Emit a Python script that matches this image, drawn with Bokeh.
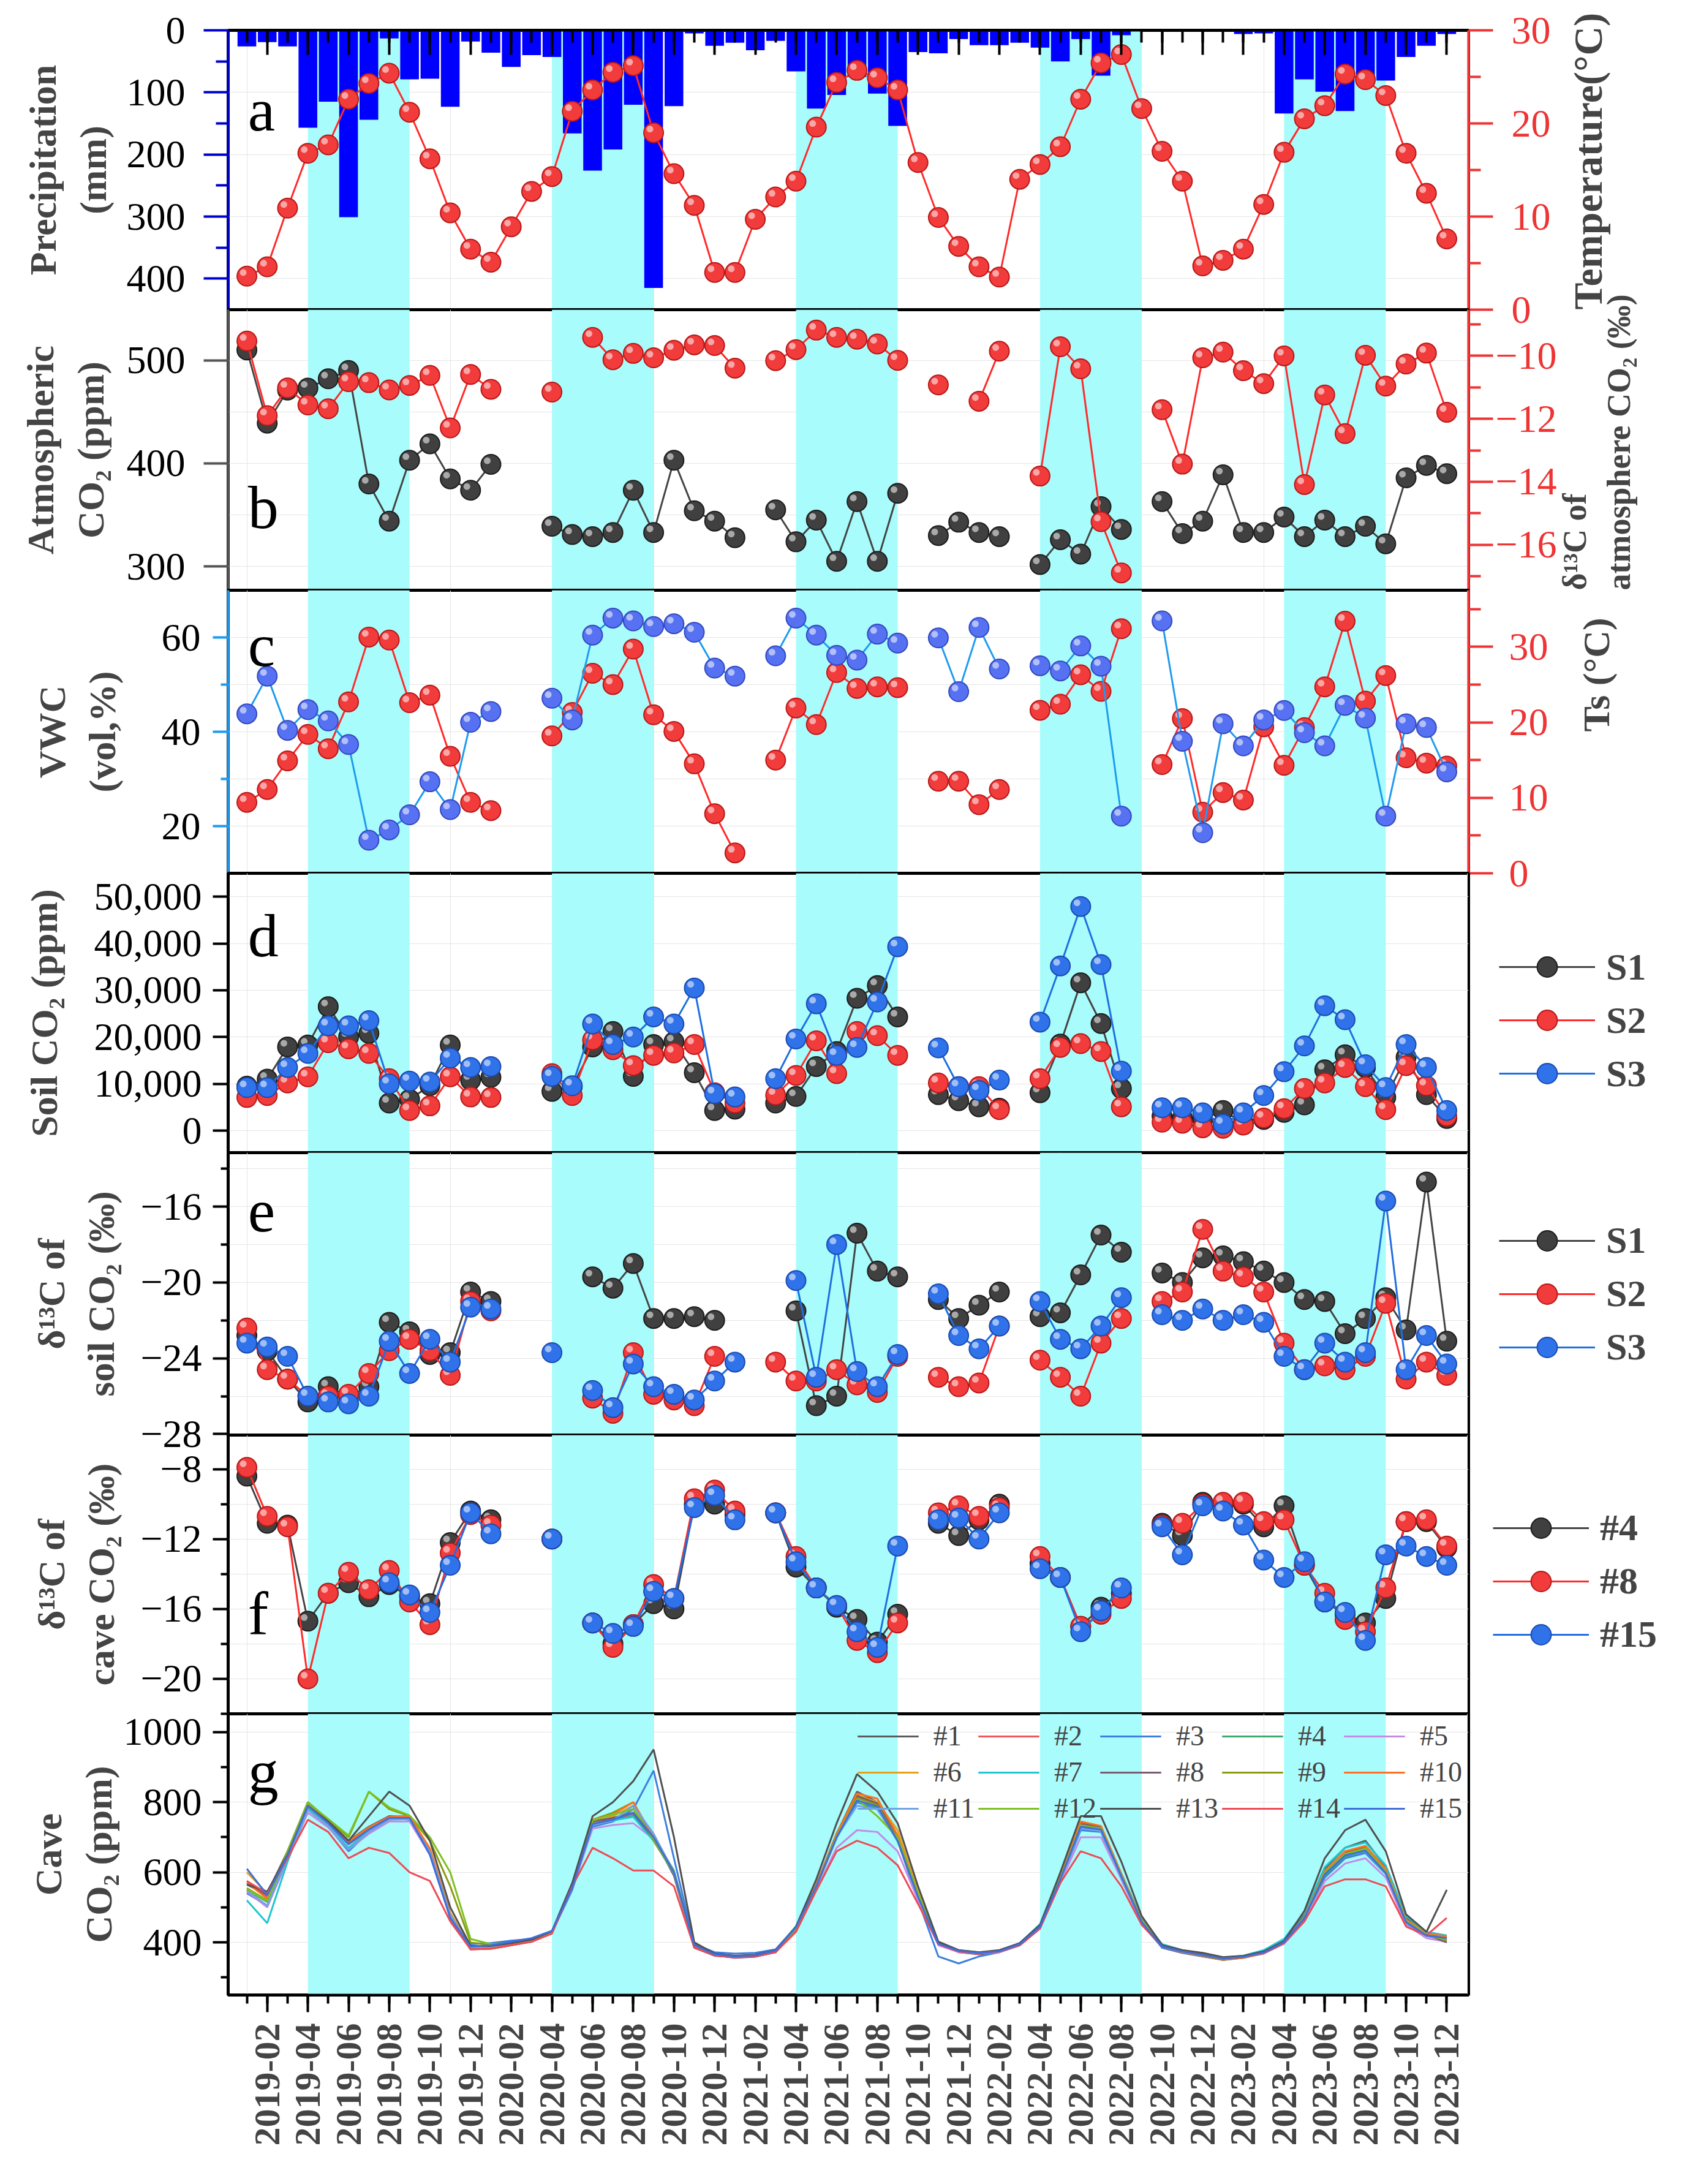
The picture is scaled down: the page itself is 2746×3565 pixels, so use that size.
import math
import numpy as np
from bokeh.plotting import figure
from bokeh.models import (Range1d, LinearAxis, FixedTicker, BoxAnnotation, Label,
                          Legend, LegendItem, NumeralTickFormatter)
from bokeh.layouts import column
from bokeh.embed import file_html
from bokeh.resources import INLINE

# ---- data (month index 0 = 2019-01) ----
months = list(range(60))
month_names = ["%d-%02d" % (2019 + i // 12, i % 12 + 1) for i in months]
wet_start = [3, 15, 27, 39, 51]
wet_end = [8, 20, 32, 44, 56]

precip = [26, 19, 26, 157, 115, 301, 144, 13, 79, 78, 123, 18, 36, 59, 40, 43, 166, 226, 192, 120,
          415, 122, 5, 25, 20, 32, 17, 66, 126, 104, 75, 102, 154, 35, 37, 14, 24, 24, 20, 28,
          50, 14, 73, 8, 0, 0, 0, 0, 0, 6, 5, 134, 79, 99, 130, 80, 81, 43, 25, 6]
temp = [3.6, 4.6, 10.9, 16.8, 17.7, 22.6, 24.3, 25.4, 21.2, 16.2, 10.4, 6.5, 5.1, 8.9, 12.7, 14.3,
        21.3, 23.6, 25.5, 26.2, 19.0, 14.6, 11.2, 4.0, 4.0, 9.7, 12.1, 13.8, 19.6, 24.4, 25.7, 24.9,
        23.6, 15.8, 9.9, 6.8, 4.6, 3.5, 14.0, 15.6, 17.5, 22.6, 26.5, 27.4, 21.6, 17.0, 13.8, 4.7,
        5.3, 6.5, 11.3, 16.9, 20.5, 21.9, 25.3, 24.7, 23.0, 16.8, 12.5, 7.6]

atm_co2 = [510, 439, 471, 473, 482, 490, 380, 344, 403, 419, 385, 374, 399, None, None, 339, 331, 329,
           333, 374, 333, 403, 354, 344, 328, None, 355, 324, 345, 305, 363, 305, 371, None, 330, 343,
           333, 329, None, 302, 326, 312, 358, 336, None, 363, 332, 344, 389, 333, 333, 348, 329, 345,
           329, 339, 322, 386, 398, 390]
atm_d13c = [-9.53, -11.9, -11.02, -11.56, -11.68, -10.82, -10.85, -11.08, -10.94, -10.62, -12.29, -10.59,
            -11.06, None, None, -11.15, None, -9.41, -10.12, -9.92, -10.06, -9.82, -9.65, -9.67, -10.39,
            None, -10.15, -9.8, -9.18, -9.41, -9.47, -9.62, -10.14, None, -10.92, None, -11.44, -9.85,
            None, -13.82, -9.71, -10.41, -15.27, -16.9, None, -11.71, -13.44, -10.06, -9.88, -10.47,
            -10.88, -10.0, -14.09, -11.24, -12.47, -9.98, -10.96, -10.26, -9.91, -11.79]

vwc = [43.8, 51.8, 40.3, 44.7, 42.3, 37.3, 17.0, 19.2, 22.4, 29.4, 23.5, 42.0, 44.3, None, None, 47.1,
       42.5, 60.5, 64.1, 63.5, 62.3, 62.9, 61.1, 53.5, 51.8, None, 56.1, 64.1, 60.5, 56.2, 55.2, 60.7,
       58.8, None, 59.9, 48.5, 62.1, 53.3, None, 54.0, 52.9, 58.2, 53.9, 22.1, None, 63.5, 38.0, 18.6,
       41.7, 37.0, 42.5, 44.5, 39.8, 37.0, 45.6, 42.9, 22.1, 41.7, 40.9, 31.5]
ts = [9.4, 11.1, 14.9, 18.4, 16.5, 22.7, 31.3, 30.9, 22.6, 23.6, 15.5, 9.4, 8.3, None, None, 18.2, 21.3,
      26.5, 25.0, 29.7, 21.0, 18.8, 14.5, 7.9, 2.7, None, 15.0, 21.9, 19.7, 26.6, 24.5, 24.7, 24.6, None,
      12.2, 12.2, 9.1, 11.1, None, 21.6, 22.4, 26.3, 24.1, 32.4, None, 14.4, 20.5, 8.1, 10.7, 9.7, 19.4,
      14.3, 19.3, 24.7, 33.4, 22.8, 26.2, 15.3, 14.6, 14.2]

soil_s1 = [9500, 11000, 17900, 18300, 26500, 20000, 20800, 5900, 6700, 9600, 18300, 10800, 11400, None,
           None, 8400, 9400, 17900, 21200, 11600, 18400, 19000, 12400, 4300, 4600, None, 5900, 7300,
           13700, 16900, 28300, 31000, 24300, None, 7700, 6400, 5100, 4800, None, 8100, 18500, 31600,
           22900, 9000, None, 3100, 2700, 2400, 4300, 1600, 2400, 3900, 5500, 13000, 16200, 13500, 7100,
           15700, 7700, 2600]
soil_s2 = [7100, 7500, 10200, 11500, 18800, 17500, 16500, 11100, 4300, 5300, 11500, 7200, 7100, None,
           None, 12200, 7500, 19400, 17300, 13900, 16100, 16600, 18400, 8100, 5900, None, 7600, 11800,
           19200, 12200, 21200, 20300, 16100, None, 10200, 9400, 9400, 4500, None, 11100, 17800, 18600,
           16900, 5100, None, 1800, 1600, 600, 500, 1200, 2700, 4700, 9000, 10200, 13500, 9400, 4500,
           13900, 9600, 3100]
soil_s3 = [9200, 9200, 13500, 16500, 22400, 22400, 23500, 10000, 10600, 10400, 15500, 13500, 13700, None,
           None, 11600, 9600, 22800, 18400, 20000, 24300, 22800, 30500, 7900, 7200, None, 11100, 19600,
           27100, 16100, 17800, 27500, 39300, None, 17700, 9400, 8600, 10800, None, 23200, 35200, 47900,
           35500, 12700, None, 4900, 4900, 3800, 1400, 3800, 7500, 12600, 18100, 26700, 23700, 14100,
           9200, 18400, 13500, 4300]

soil_d13_s1 = [-22.8, -23.6, -25.1, -26.3, -25.5, -26.0, -25.5, -22.1, -22.6, -23.8, -23.7, -20.5, -21.0,
               None, None, None, None, -19.7, -20.3, -19.0, -21.9, -21.9, -21.8, -22.0, None, None, None,
               -21.5, -26.5, -26.0, -17.4, -19.4, -19.7, None, -20.9, -21.9, -21.2, -20.5, None, -21.8,
               -21.6, -19.6, -17.5, -18.4, None, -19.5, -20.0, -18.7, -18.6, -18.9, -19.4, -20.0, -20.9,
               -21.0, -22.7, -21.9, -20.8, -22.5, -14.7, -23.1]
soil_d13_s2 = [-22.4, -24.6, -25.1, -26.0, -26.0, -25.9, -24.8, -23.6, -23.0, -23.6, -24.9, -21.0, -21.5,
               None, None, None, None, -26.1, -26.9, -23.7, -25.9, -26.2, -26.5, -23.9, None, None, -24.2,
               -25.2, -25.2, -24.6, -25.4, -25.8, -23.9, None, -25.0, -25.5, -25.3, -22.3, None, -24.1,
               -25.0, -26.0, -23.2, -21.9, None, -21.0, -20.5, -17.2, -19.4, -19.7, -20.5, -23.2, -24.6,
               -24.4, -24.6, -23.9, -21.1, -25.1, -24.2, -24.9]
soil_d13_s3 = [-23.2, -23.4, -23.9, -26.0, -26.3, -26.4, -26.0, -23.1, -24.8, -23.0, -24.2, -21.3, -21.4,
               None, None, -23.7, None, -25.7, -26.6, -24.3, -25.5, -25.9, -26.2, -25.2, -24.2, None, None,
               -19.9, -25.0, -18.0, -24.7, -25.5, -23.8, None, -20.6, -22.8, -23.5, -22.3, None, -21.0,
               -23.0, -23.5, -22.3, -20.8, None, -21.7, -22.0, -21.4, -22.0, -21.7, -22.1, -23.9, -24.6,
               -23.2, -24.2, -23.7, -15.7, -24.6, -22.8, -24.3]

cave_d13_4 = [-8.4, -11.1, -11.2, -16.7, -15.1, -14.5, -15.3, -14.6, -15.3, -15.7, -12.2, -10.4, -10.9,
              None, None, -12.0, None, -16.8, -18.0, -16.9, -15.7, -16.0, -10.0, -10.0, -10.6, None,
              -10.5, -13.6, -14.8, -15.9, -16.6, -17.9, -16.3, None, -11.1, -11.8, -10.9, -10.0, None,
              -13.4, -14.2, -17.0, -15.9, -15.1, None, -11.1, -11.8, -9.9, -10.0, -10.0, -11.3, -10.1,
              -13.5, -15.6, -16.3, -16.8, -15.4, -11.0, -11.0, -12.5]
cave_d13_8 = [-7.9, -10.7, -11.3, -20.0, -15.1, -13.9, -14.9, -13.8, -15.6, -16.9, -12.8, -10.6, -11.2,
              None, None, -12.0, None, -16.8, -18.2, -16.9, -14.6, -15.4, -9.7, -9.2, -10.4, None,
              -10.5, -13.0, -14.8, -15.8, -17.8, -18.5, -16.8, None, -10.5, -10.1, -10.7, -10.2, None,
              -13.0, -14.2, -17.0, -16.3, -15.4, None, -11.2, -11.1, -10.0, -9.9, -9.9, -11.0, -10.9,
              -13.5, -15.1, -16.6, -17.3, -14.8, -11.0, -10.9, -12.4]
cave_d13_15 = [None, None, None, None, None, None, None, -14.5, -15.2, -16.2, -13.5, -10.5, -11.7,
               None, None, -12.0, None, -16.8, -17.4, -17.0, -15.0, -15.4, -10.2, -9.5, -10.9, None,
               -10.5, -13.3, -14.8, -15.8, -17.3, -18.2, -12.4, None, -10.9, -10.8, -12.0, -10.5, None,
               -13.7, -14.2, -17.3, -16.1, -14.8, None, -11.3, -12.9, -10.1, -10.4, -11.2, -13.2, -14.2,
               -13.3, -15.6, -16.2, -17.8, -12.9, -12.4, -13.0, -13.5]

cave_names = ["#%d" % i for i in range(1, 16)]
cave_colors = ["#5a5a5a", "#f2555c", "#3d7fe0", "#3daa6e", "#c38be6", "#e3a21a", "#1fc6d2", "#7b5a6e",
               "#8b9b0f", "#ff6f1f", "#70a3e3", "#7dc121", "#505050", "#ee4b55", "#3f6fd9"]
cave_co2 = [
    [570, 540, 660, 800, 745, 690, 730, 760, 750, 660, 470, 380, 382, 392, 402, 428, 565, 745, 755, 770,
     700, 590, 385, 362, 358, 360, 372, 436, 565, 710, 830, 800, 700, 540, 398, 372, 366, 372, 392, 440,
     590, 740, 730, 595, 465, 385, 370, 360, 350, 356, 370, 398, 480, 610, 670, 690, 615, 470, 425, 405],
    [575, 530, 655, 795, 742, 680, 720, 758, 760, 665, 475, 382, 386, 396, 406, 432, 558, 738, 752, 762,
     695, 595, 388, 364, 358, 362, 376, 442, 562, 705, 815, 795, 695, 535, 396, 374, 368, 374, 394, 446,
     582, 730, 722, 588, 458, 388, 374, 364, 352, 358, 370, 400, 472, 600, 655, 668, 605, 462, 425, 415],
    [540, 505, 640, 780, 730, 660, 715, 755, 750, 650, 470, 395, 398, 405, 410, 428, 550, 730, 745, 780,
     890, 640, 395, 372, 368, 370, 380, 445, 560, 700, 800, 780, 690, 520, 360, 340, 360, 372, 392, 440,
     575, 720, 715, 580, 455, 385, 372, 362, 352, 358, 368, 398, 465, 585, 640, 655, 595, 455, 418, 408],
    [550, 515, 645, 785, 738, 682, 722, 752, 752, 655, 475, 388, 390, 400, 408, 432, 556, 735, 748, 760,
     700, 605, 390, 366, 360, 363, 377, 441, 558, 698, 805, 785, 688, 528, 396, 376, 370, 376, 396, 447,
     580, 728, 720, 588, 459, 390, 376, 366, 356, 360, 371, 401, 468, 590, 645, 660, 598, 458, 420, 412],
    [545, 500, 635, 770, 728, 665, 710, 745, 745, 650, 472, 384, 384, 394, 404, 430, 555, 725, 735, 740,
     695, 600, 388, 364, 358, 360, 374, 438, 550, 670, 720, 715, 660, 520, 392, 372, 368, 372, 392, 440,
     570, 700, 700, 580, 455, 388, 372, 362, 352, 356, 368, 396, 460, 575, 625, 640, 585, 450, 412, 402],
    [600, 540, 655, 790, 745, 690, 725, 750, 755, 665, 485, 385, 386, 396, 406, 430, 560, 742, 760, 790,
     700, 598, 386, 363, 357, 360, 374, 438, 560, 705, 820, 800, 720, 545, 398, 376, 371, 376, 394, 443,
     585, 738, 726, 592, 462, 388, 373, 362, 350, 356, 369, 398, 472, 600, 660, 675, 610, 465, 426, 412],
    [520, 455, 630, 780, 735, 670, 718, 752, 752, 655, 476, 386, 388, 398, 408, 432, 560, 736, 748, 758,
     690, 596, 388, 365, 359, 362, 376, 446, 565, 712, 815, 792, 695, 535, 398, 377, 372, 376, 398, 452,
     590, 735, 724, 596, 468, 395, 378, 367, 357, 362, 378, 410, 485, 615, 670, 685, 620, 475, 430, 420],
    [565, 535, 655, 795, 742, 686, 728, 760, 758, 660, 478, 384, 385, 395, 405, 430, 562, 745, 755, 768,
     695, 598, 387, 363, 356, 359, 373, 437, 560, 706, 818, 796, 698, 538, 397, 375, 369, 374, 393, 443,
     586, 737, 727, 592, 462, 389, 374, 363, 351, 357, 370, 399, 474, 602, 658, 672, 606, 462, 423, 400],
    [555, 520, 660, 800, 750, 700, 830, 780, 760, 690, 560, 400, 392, 398, 405, 428, 560, 750, 770, 800,
     690, 600, 388, 365, 360, 362, 376, 440, 562, 702, 812, 792, 693, 533, 397, 377, 371, 376, 395, 445,
     583, 733, 724, 590, 460, 390, 375, 364, 354, 359, 371, 400, 470, 597, 652, 667, 602, 460, 421, 406],
    [570, 525, 652, 795, 745, 688, 728, 758, 760, 668, 480, 384, 385, 395, 405, 430, 565, 750, 765, 800,
     700, 600, 388, 364, 358, 361, 375, 440, 565, 710, 825, 810, 705, 540, 398, 376, 370, 375, 394, 446,
     588, 745, 732, 595, 463, 389, 374, 363, 352, 357, 370, 399, 473, 603, 660, 675, 610, 464, 424, 418],
    [548, 505, 640, 778, 732, 665, 715, 750, 752, 658, 478, 386, 388, 398, 407, 431, 556, 735, 748, 790,
     710, 600, 390, 365, 359, 362, 376, 442, 558, 700, 790, 780, 690, 530, 396, 375, 369, 374, 394, 444,
     578, 725, 718, 586, 458, 388, 374, 364, 354, 359, 372, 402, 472, 596, 648, 660, 596, 457, 419, 410],
    [552, 518, 658, 798, 752, 705, 830, 785, 762, 700, 600, 410, 395, 400, 406, 430, 558, 748, 765, 780,
     695, 602, 389, 365, 359, 361, 375, 439, 560, 703, 808, 760, 700, 540, 398, 377, 371, 376, 395, 444,
     584, 734, 725, 591, 461, 390, 375, 364, 353, 358, 371, 400, 471, 598, 653, 668, 603, 461, 422, 408],
    [565, 545, 650, 790, 745, 690, 760, 830, 790, 690, 500, 390, 390, 398, 408, 432, 570, 760, 800, 860,
     950, 700, 400, 368, 362, 365, 378, 445, 580, 740, 880, 830, 740, 560, 402, 378, 372, 378, 398, 450,
     600, 760, 760, 630, 475, 392, 378, 370, 358, 362, 374, 404, 490, 640, 720, 750, 660, 480, 430, 550],
    [575, 540, 640, 750, 715, 640, 670, 655, 600, 575, 460, 380, 382, 392, 402, 425, 560, 670, 640, 605,
     605, 560, 385, 363, 357, 360, 372, 430, 548, 660, 690, 670, 620, 510, 395, 374, 368, 374, 392, 440,
     570, 660, 640, 560, 450, 388, 374, 364, 354, 358, 370, 398, 460, 560, 580, 580, 560, 445, 420, 470],
    [610, 535, 648, 790, 740, 680, 722, 755, 755, 650, 470, 388, 392, 402, 412, 433, 556, 738, 750, 770,
     700, 600, 392, 366, 360, 363, 377, 443, 560, 700, 805, 788, 690, 530, 396, 376, 370, 375, 395, 445,
     580, 730, 722, 588, 458, 388, 374, 364, 354, 359, 371, 401, 469, 594, 648, 662, 598, 458, 420, 412],
]

FONT = "Liberation Serif"
FW = 2025
LEFT, RIGHT = 372, 333
PAD = 40                     # transparent spill-over border between stacked panels
RED = "#ee3434"
# sphere-like markers: (fill, edge)
BLACK_DOT = ("#404040", "#1c1c1c")
RED_DOT = ("#f23b3b", "#b81818")
BLUE_DOT = ("#2f72ea", "#1a4bb0")
VWC_DOT = ("#5672f2", "#3448c0")

X0, X1 = -0.92, 60.07
PX = (X1 - X0) / FW
xr = Range1d(X0, X1)
odd_months = [m for m in months if m % 2 == 1]


def arr(v):
    return np.array(v, dtype=float)


def make_fig(y_range, fh, top=PAD, bottom=PAD, right=RIGHT, first=False):
    p = figure(frame_width=FW, frame_height=fh, x_range=xr, y_range=y_range,
               x_axis_location=None, y_axis_location=None, toolbar_location=None,
               output_backend="svg", min_border_left=LEFT, min_border_right=right,
               min_border_top=top, min_border_bottom=bottom,
               margin=(0, 0, 0, 0) if first else (-2 * PAD, 0, 0, 0))
    p.border_fill_alpha = 0
    p.outline_line_color = "black"
    p.outline_line_width = 5
    p.outline_line_alpha = 1
    for s, e in zip(wet_start, wet_end):
        p.add_layout(BoxAnnotation(left=s, right=e, fill_color="#a8fcfc", fill_alpha=1,
                                   line_alpha=0, level="underlay"))
    return p


def y_axis(p, side, ticks, minor, label=None, color="black", range_name="default", tick_out=25,
           std=18, lstd=20, tick_color="black", neg=False, fmt=None, label_size="62px",
           align="center"):
    ax = LinearAxis(y_range_name=range_name, ticker=FixedTicker(ticks=ticks, minor_ticks=minor),
                    axis_label=label)
    if fmt is not None:
        ax.formatter = fmt
    if neg:
        ax.major_label_overrides = {t: "\u2212%g" % (-t) for t in ticks if t < 0}
    ax.axis_line_color = color
    ax.axis_line_width = 4
    ax.major_tick_line_color = color
    ax.minor_tick_line_color = color
    ax.major_tick_line_width = 4
    ax.minor_tick_line_width = 4
    ax.major_tick_out = tick_out
    ax.major_tick_in = 0
    ax.minor_tick_out = tick_out // 2
    ax.minor_tick_in = 0
    ax.major_label_text_font = FONT
    ax.major_label_text_font_size = "64px"
    ax.major_label_text_color = tick_color
    ax.major_label_standoff = std
    ax.axis_label_standoff = lstd
    ax.axis_label_text_font = FONT
    ax.axis_label_text_font_style = "bold"
    ax.axis_label_text_font_size = label_size
    if side == "right":
        # read bottom-to-top like the left titles
        ax.axis_label_orientation = math.pi / 2
        ax.axis_label_align = align
    p.add_layout(ax, side)
    return ax


def letter(p, txt, y, range_name="default"):
    p.add_layout(Label(x=0.05, y=y, text=txt, y_range_name=range_name, text_font=FONT,
                       text_font_size="100px", text_color="black", text_baseline="alphabetic"))


def dots(p, y, line_color, dot, ppx, range_name="default", size=32):
    # ppx: data units per screen pixel on this y range (for the small highlight)
    ya = arr(y)
    r1 = p.line(months, ya, line_color=line_color, line_width=3, y_range_name=range_name)
    r2 = p.scatter(months, ya, size=size, fill_color=dot[0], line_color=dot[1], line_width=2,
                   y_range_name=range_name)
    p.scatter(arr(months) - 6 * PX, ya + 6 * ppx, size=11, fill_color="white", fill_alpha=0.55,
              line_color=None, y_range_name=range_name)
    return [r1, r2]


def side_legend(p, items, fh, dx, dy):
    h = 2 * 10 + 3 * 82 + 2 * 5
    leg = Legend(items=[LegendItem(label=l, renderers=r) for l, r in items],
                 location=(dx, (fh - h) / 2 - dy),
                 border_line_alpha=0, background_fill_alpha=0, label_text_font=FONT,
                 label_text_font_style="bold", label_text_font_size="62px", glyph_width=157,
                 glyph_height=82, spacing=5, label_standoff=18, margin=dx, padding=10)
    p.add_layout(leg, "right")


# ---- (a) precipitation & air temperature ----
pa = make_fig(Range1d(450, 0), 456, top=49, first=True)
pa.extra_y_ranges = {"temp": Range1d(0, 30)}
pa.vbar(x=months, top=precip, bottom=0, width=0.92, fill_color="#0000ff", line_color=None)
dots(pa, temp, "#ff2a2a", RED_DOT, 30 / 456, range_name="temp")
y_axis(pa, "left", [0, 100, 200, 300, 400], [50, 150, 250, 350], "Precipitation\n(mm)",
       color="#0000cc", tick_out=40, std=30, lstd=18)
y_axis(pa, "right", [0, 10, 20, 30], [5, 15, 25], "Temperature(\u00b0C)", color=RED,
       range_name="temp", tick_out=40, std=30, lstd=58, tick_color=RED, align="start",
       label_size="66px")
top_ax = LinearAxis(ticker=FixedTicker(ticks=odd_months, minor_ticks=months),
                    major_label_overrides={m: "" for m in odd_months})
top_ax.major_label_standoff = 0
top_ax.axis_line_width = 4
top_ax.major_tick_in = 40
top_ax.major_tick_out = 0
top_ax.minor_tick_in = 20
top_ax.minor_tick_out = 0
top_ax.major_tick_line_width = 4
top_ax.minor_tick_line_width = 4
pa.add_layout(top_ax, "above")
letter(pa, "a", 30 - 30 * 130 / 456, "temp")

# ---- (b) atmospheric CO2 & d13C ----
pb = make_fig(Range1d(277, 549), 458)
pb.extra_y_ranges = {"d13": Range1d(-17.45, -8.53)}
dots(pb, atm_co2, "#444444", BLACK_DOT, 272 / 458)
dots(pb, atm_d13c, "#ff2a2a", RED_DOT, 8.92 / 458, range_name="d13")
y_axis(pb, "left", [300, 400, 500], [], "Atmospheric\nCO\u2082 (ppm)", color="#555555",
       tick_out=40, std=30, lstd=22)
y_axis(pb, "right", [-16, -14, -12, -10], [-17, -15, -13, -11, -9],
       "\u03b4\u00b9\u00b3C of\natmosphere CO\u2082 (\u2030)", color=RED, range_name="d13",
       tick_out=40, std=4, lstd=62, tick_color=RED, neg=True, label_size="54px", align="start")
letter(pb, "b", 549 - 272 * 323 / 458)

# ---- (c) VWC & soil temperature ----
pc = make_fig(Range1d(10, 70), 462)
pc.extra_y_ranges = {"ts": Range1d(0, 37.5)}
dots(pc, ts, "#ff2a2a", RED_DOT, 37.5 / 462, range_name="ts")
dots(pc, vwc, "#1e9bf0", VWC_DOT, 60 / 462)
y_axis(pc, "left", [20, 40, 60], [30, 50], "VWC\n(vol,%)", color="#1e9bf0", std=20, lstd=60)
y_axis(pc, "right", [0, 10, 20, 30], [5, 15, 25, 35], "Ts (\u00b0C)", color=RED,
       range_name="ts", tick_out=40, std=26, lstd=75, tick_color=RED, align="center")
letter(pc, "c", 70 - 60 * 90 / 462)

# ---- (d) soil CO2 ----
pd_ = make_fig(Range1d(-4700, 55000), 456, right=0)
d1 = dots(pd_, soil_s1, "#444444", BLACK_DOT, 59700 / 456)
d2 = dots(pd_, soil_s2, "#ff2a2a", RED_DOT, 59700 / 456)
d3 = dots(pd_, soil_s3, "#1f6fe0", BLUE_DOT, 59700 / 456)
y_axis(pd_, "left", [0, 10000, 20000, 30000, 40000, 50000], [], "Soil CO\u2082 (ppm)",
       fmt=NumeralTickFormatter(format="0,0"), std=18, lstd=45)
side_legend(pd_, [("S1", d1), ("S2", d2), ("S3", d3)], 456, 40, 12)
letter(pd_, "d", 55000 - 59700 * 102 / 456)

# ---- (e) d13C of soil CO2 ----
pe = make_fig(Range1d(-28.05, -13.15), 461, right=0)
e1 = dots(pe, soil_d13_s1, "#444444", BLACK_DOT, 14.9 / 461)
e2 = dots(pe, soil_d13_s2, "#ff2a2a", RED_DOT, 14.9 / 461)
e3 = dots(pe, soil_d13_s3, "#1f6fe0", BLUE_DOT, 14.9 / 461)
y_axis(pe, "left", [-28, -24, -20, -16], [-26, -22, -18, -14],
       "\u03b4\u00b9\u00b3C of\nsoil CO\u2082 (\u2030)", neg=True, std=18, lstd=27)
side_legend(pe, [("S1", e1), ("S2", e2), ("S3", e3)], 461, 40, 0)
letter(pe, "e", -13.15 - 14.9 * 96 / 461)

# ---- (f) d13C of cave CO2 ----
pf = make_fig(Range1d(-22, -6.05), 455, right=0)
f1 = dots(pf, cave_d13_4, "#444444", BLACK_DOT, 15.95 / 455)
f2 = dots(pf, cave_d13_8, "#ff2a2a", RED_DOT, 15.95 / 455)
f3 = dots(pf, cave_d13_15, "#1f6fe0", BLUE_DOT, 15.95 / 455)
y_axis(pf, "left", [-20, -16, -12, -8], [-22, -18, -14, -10, -6],
       "\u03b4\u00b9\u00b3C of\ncave CO\u2082 (\u2030)", neg=True, std=18, lstd=27)
side_legend(pf, [("#4", f1), ("#8", f2), ("#15", f3)], 455, 30, 11)
letter(pf, "f", -6.05 - 15.95 * 292 / 455)

# ---- (g) cave CO2 ----
pg = make_fig(Range1d(250, 1052), 459, bottom=280)
g_items = []
for name, col, vals in zip(cave_names, cave_colors, cave_co2):
    r = pg.line(months, vals, line_color=col, line_width=3)
    g_items.append(LegendItem(label=name, renderers=[r]))
y_axis(pg, "left", [400, 600, 800, 1000], [300, 500, 700, 900], "Cave\nCO\u2082 (ppm)",
       std=18, lstd=4)
leg = Legend(items=g_items, location="top_right", orientation="horizontal", ncols=5,
             border_line_alpha=0, background_fill_alpha=0, label_text_font=FONT,
             label_text_font_size="46px", glyph_width=100, glyph_height=20, spacing=6,
             label_standoff=24, margin=6, padding=4)
pg.add_layout(leg)
bot = LinearAxis(ticker=FixedTicker(ticks=odd_months, minor_ticks=months),
                 major_label_overrides={m: month_names[m] for m in odd_months})
bot.major_label_orientation = math.pi / 2
bot.major_label_text_font = FONT
bot.major_label_text_font_style = "bold"
bot.major_label_text_font_size = "60px"
bot.major_label_standoff = 18
bot.axis_line_width = 4
bot.major_tick_out = 28
bot.major_tick_in = 0
bot.minor_tick_out = 14
bot.minor_tick_in = 0
bot.major_tick_line_width = 4
bot.minor_tick_line_width = 4
pg.add_layout(bot, "below")
letter(pg, "g", 1052 - 802 * 95 / 459)

layout = column(pa, pb, pc, pd_, pe, pf, pg, spacing=0)
open("out.html", "w").write(file_html(layout, INLINE))
